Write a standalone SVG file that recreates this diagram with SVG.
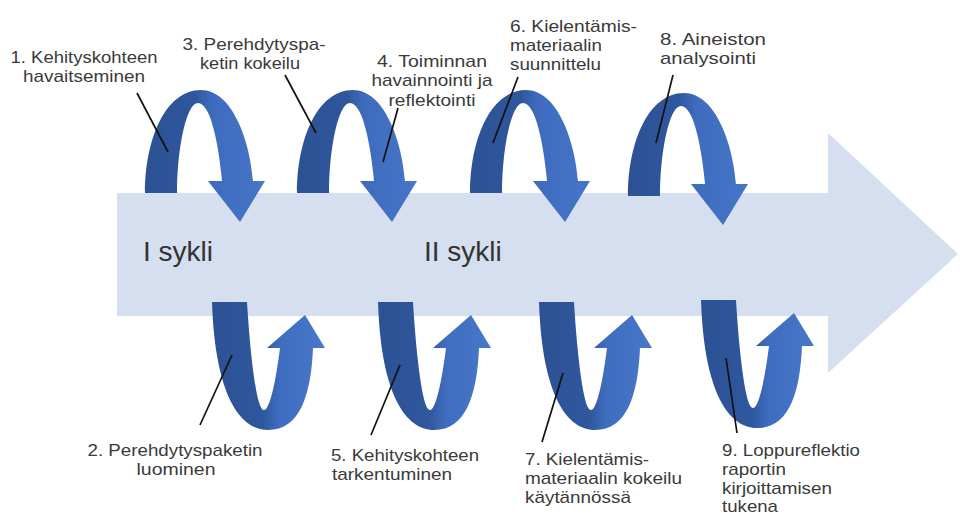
<svg xmlns="http://www.w3.org/2000/svg" width="960" height="518" viewBox="0 0 960 518">
<defs>
<linearGradient id="gTop" x1="0" y1="0" x2="1" y2="0">
<stop offset="0" stop-color="#2c5294"/>
<stop offset="0.42" stop-color="#2f579e"/>
<stop offset="0.56" stop-color="#3e6bbd"/>
<stop offset="1" stop-color="#4676c8"/>
</linearGradient>
<linearGradient id="gBot" x1="0" y1="0" x2="1" y2="0">
<stop offset="0" stop-color="#2c5294"/>
<stop offset="0.45" stop-color="#2f579e"/>
<stop offset="0.6" stop-color="#3f6dbf"/>
<stop offset="1" stop-color="#4878ca"/>
</linearGradient>
<path id="topArrow" d="M145,193 C145,140 165,90 201,90 C232,90 250,140 253,181 L265,181 L240,222 L208,181 L222,181 C218,140 210,103 198,103 C186,103 177,150 177,193 Z"/>
<path id="botArrow" d="M212,302 L247,302 C250,350 256,410 264,410 C270,410 276,380 280,348 L267,348 L305,315 L325,348 L313,348 C311,395 300,430 268,430 C240,430 215,395 212,302 Z"/>
</defs>
<style>
.lbl{font-family:"Liberation Sans",Arial,sans-serif;font-size:17px;fill:#3a3a3a}
.big{font-family:"Liberation Sans",Arial,sans-serif;font-size:28px;fill:#333333}
.top{fill:url(#gTop)}
.bot{fill:url(#gBot)}
.lead{stroke:#111111;stroke-width:1.7;fill:none}
</style>
<rect width="960" height="518" fill="#ffffff"/>
<g id="main-arrow">
<polygon points="117,193 828,193 828,133 958,254 828,373 828,316 117,316" fill="#d6dff0"/>
<text class="big" x="143" y="261">I sykli</text>
<text class="big" x="424" y="261">II sykli</text>
</g>
<g id="arrow-top-1"><use href="#topArrow" class="top"/></g>
<g id="arrow-top-2"><use href="#topArrow" class="top" transform="translate(152,0)"/></g>
<g id="arrow-top-3"><use href="#topArrow" class="top" transform="translate(325,0)"/></g>
<g id="arrow-top-4"><use href="#topArrow" class="top" transform="translate(483,3)"/></g>
<g id="arrow-bot-1"><use href="#botArrow" class="bot"/></g>
<g id="arrow-bot-2"><use href="#botArrow" class="bot" transform="translate(166,0)"/></g>
<g id="arrow-bot-3"><use href="#botArrow" class="bot" transform="translate(327,0)"/></g>
<g id="arrow-bot-4"><use href="#botArrow" class="bot" transform="translate(489,-2)"/></g>
<g id="connectors">
<line class="lead" x1="137" y1="93" x2="168" y2="152"/>
<line class="lead" x1="285" y1="75" x2="316" y2="133"/>
<line class="lead" x1="398" y1="108" x2="383" y2="162"/>
<line class="lead" x1="518" y1="77" x2="493" y2="143"/>
<line class="lead" x1="673" y1="75" x2="656" y2="143"/>
<line class="lead" x1="232" y1="355" x2="200" y2="425"/>
<line class="lead" x1="400" y1="365" x2="371" y2="435"/>
<line class="lead" x1="563" y1="373" x2="542" y2="442"/>
<line class="lead" x1="726" y1="358" x2="737" y2="433"/>
</g>
<g id="label-1">
<text class="lbl" x="84" y="63" text-anchor="middle" textLength="147" lengthAdjust="spacingAndGlyphs">1. Kehityskohteen</text>
<text class="lbl" x="84" y="82" text-anchor="middle" textLength="122" lengthAdjust="spacingAndGlyphs">havaitseminen</text>
</g>
<g id="label-3">
<text class="lbl" x="254" y="50" text-anchor="middle" textLength="143" lengthAdjust="spacingAndGlyphs">3. Perehdytyspa-</text>
<text class="lbl" x="250" y="69" text-anchor="middle" textLength="100" lengthAdjust="spacingAndGlyphs">ketin kokeilu</text>
</g>
<g id="label-4">
<text class="lbl" x="432" y="67" text-anchor="middle" textLength="110" lengthAdjust="spacingAndGlyphs">4. Toiminnan</text>
<text class="lbl" x="432" y="86" text-anchor="middle" textLength="121" lengthAdjust="spacingAndGlyphs">havainnointi ja</text>
<text class="lbl" x="432" y="106" text-anchor="middle" textLength="87" lengthAdjust="spacingAndGlyphs">reflektointi</text>
</g>
<g id="label-6">
<text class="lbl" x="510" y="32" textLength="127" lengthAdjust="spacingAndGlyphs">6. Kielentämis-</text>
<text class="lbl" x="510" y="51" textLength="92" lengthAdjust="spacingAndGlyphs">materiaalin</text>
<text class="lbl" x="510" y="70" textLength="91" lengthAdjust="spacingAndGlyphs">suunnittelu</text>
</g>
<g id="label-8">
<text class="lbl" x="660" y="45" textLength="106" lengthAdjust="spacingAndGlyphs">8. Aineiston</text>
<text class="lbl" x="660" y="64" textLength="96" lengthAdjust="spacingAndGlyphs">analysointi</text>
</g>
<g id="label-2">
<text class="lbl" x="175" y="456" text-anchor="middle" textLength="175" lengthAdjust="spacingAndGlyphs">2. Perehdytyspaketin</text>
<text class="lbl" x="176" y="475" text-anchor="middle" textLength="79" lengthAdjust="spacingAndGlyphs">luominen</text>
</g>
<g id="label-5">
<text class="lbl" x="331" y="461" textLength="148" lengthAdjust="spacingAndGlyphs">5. Kehityskohteen</text>
<text class="lbl" x="332" y="480" textLength="120" lengthAdjust="spacingAndGlyphs">tarkentuminen</text>
</g>
<g id="label-7">
<text class="lbl" x="525" y="465" textLength="124" lengthAdjust="spacingAndGlyphs">7. Kielentämis-</text>
<text class="lbl" x="525" y="484" textLength="157" lengthAdjust="spacingAndGlyphs">materiaalin kokeilu</text>
<text class="lbl" x="525" y="503" textLength="106" lengthAdjust="spacingAndGlyphs">käytännössä</text>
</g>
<g id="label-9">
<text class="lbl" x="722" y="456" textLength="138" lengthAdjust="spacingAndGlyphs">9. Loppureflektio</text>
<text class="lbl" x="722" y="475" textLength="64" lengthAdjust="spacingAndGlyphs">raportin</text>
<text class="lbl" x="722" y="494" textLength="110" lengthAdjust="spacingAndGlyphs">kirjoittamisen</text>
<text class="lbl" x="722" y="512" textLength="56" lengthAdjust="spacingAndGlyphs">tukena</text>
</g>
</svg>
